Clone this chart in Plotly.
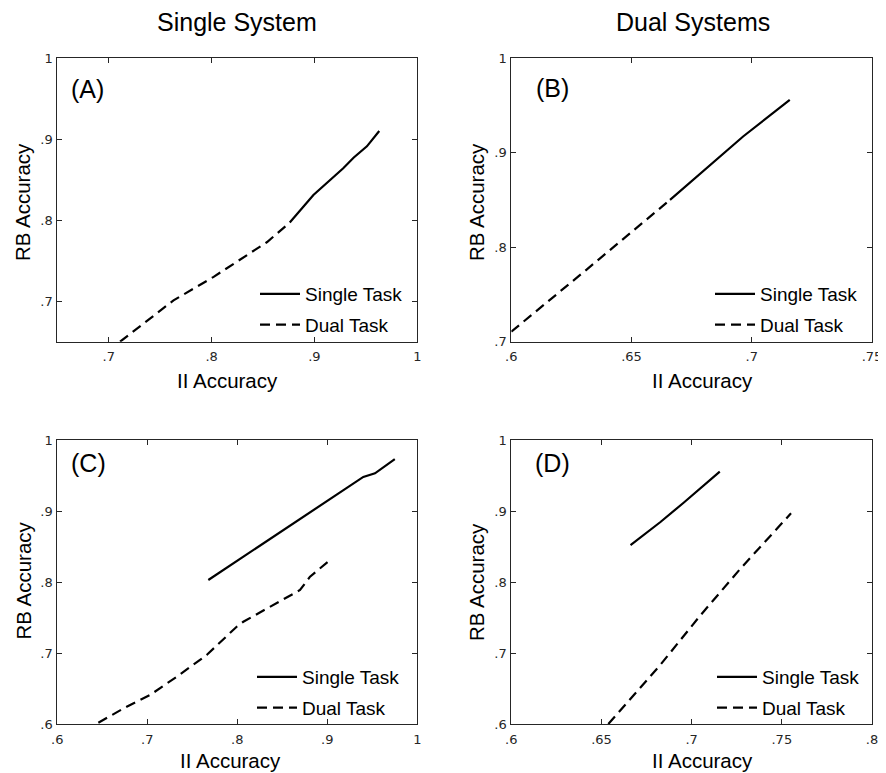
import plotly.graph_objects as go

# ---------------- data ----------------
# Panel A (Single System, top)
a_single_x = [0.876, 0.899, 0.928, 0.938, 0.951, 0.963]
a_single_y = [0.797, 0.831, 0.864, 0.877, 0.891, 0.910]
a_dual_x = [0.711, 0.763, 0.802, 0.841, 0.854, 0.876]
a_dual_y = [0.650, 0.701, 0.730, 0.763, 0.773, 0.797]

# Panel B (Dual Systems, top)
b_single_x = [0.666, 0.6825, 0.6964, 0.7158]
b_single_y = [0.850, 0.8860, 0.917, 0.9556]
b_dual_x = [0.600, 0.6312, 0.666]
b_dual_y = [0.7106, 0.776, 0.850]

# Panel C (Single System, bottom)
c_single_x = [0.7678, 0.8215, 0.9216, 0.940, 0.953, 0.966, 0.975]
c_single_y = [0.8028, 0.848, 0.932, 0.948, 0.953, 0.965, 0.973]
c_dual_x = [0.6456, 0.6771, 0.7030, 0.7327, 0.766, 0.7993, 0.8067, 0.8697, 0.8808, 0.903]
c_dual_y = [0.6018, 0.6244, 0.6408, 0.6666, 0.6972, 0.737, 0.744, 0.7887, 0.8075, 0.831]

# Panel D (Dual Systems, bottom)
d_single_x = [0.6661, 0.6827, 0.6957, 0.7156]
d_single_y = [0.8521, 0.8845, 0.9120, 0.9554]
d_dual_x = [0.6538, 0.6827, 0.7050, 0.7273, 0.7551]
d_dual_y = [0.600, 0.6835, 0.7535, 0.8195, 0.8968]

# tick labels
a_xticks = [0.7, 0.8, 0.9, 1.0]; a_xlabels = [".7", ".8", ".9", "1"]
a_yticks = [0.7, 0.8, 0.9, 1.0]; a_ylabels = [".7", ".8", ".9", "1"]
b_xticks = [0.6, 0.65, 0.7, 0.75]; b_xlabels = [".6", ".65", ".7", ".75"]
b_yticks = [0.7, 0.8, 0.9, 1.0]; b_ylabels = [".7", ".8", ".9", "1"]
c_xticks = [0.6, 0.7, 0.8, 0.9, 1.0]; c_xlabels = [".6", ".7", ".8", ".9", "1"]
c_yticks = [0.6, 0.7, 0.8, 0.9, 1.0]; c_ylabels = [".6", ".7", ".8", ".9", "1"]
d_xticks = [0.6, 0.65, 0.7, 0.75, 0.8]; d_xlabels = [".6", ".65", ".7", ".75", ".8"]
d_yticks = [0.6, 0.7, 0.8, 0.9, 1.0]; d_ylabels = [".6", ".7", ".8", ".9", "1"]

col_titles = ["Single System", "Dual Systems"]
panel_labels = ["(A)", "(B)", "(C)", "(D)"]
series_names = ["Single Task", "Dual Task"]

# ---------------- figure ----------------
W, H = 886, 773
OFF = 8  # page body margin offset
fig = go.Figure()

panels = [
    (a_single_x, a_single_y, a_dual_x, a_dual_y, "x", "y", "legend"),
    (b_single_x, b_single_y, b_dual_x, b_dual_y, "x2", "y2", "legend2"),
    (c_single_x, c_single_y, c_dual_x, c_dual_y, "x3", "y3", "legend3"),
    (d_single_x, d_single_y, d_dual_x, d_dual_y, "x4", "y4", "legend4"),
]
for sx, sy, dx, dy, xa, ya, lg in panels:
    fig.add_trace(go.Scatter(x=sx, y=sy, mode="lines", name=series_names[0],
                             line=dict(color="black", width=2.2),
                             legendgroup="s", xaxis=xa, yaxis=ya, legend=lg))
    fig.add_trace(go.Scatter(x=dx, y=dy, mode="lines", name=series_names[1],
                             line=dict(color="black", width=2.2, dash="10px,6px"),
                             legendgroup="d", xaxis=xa, yaxis=ya, legend=lg))

def px_x(p):
    return (p - OFF) / W

def px_y(p):
    return 1 - (p - OFF) / H

axcol = "#262626"
tickfont = dict(family="DejaVu Sans", size=13, color="#262626")

def axis(domain, rng, tv, tt, anchor, isx):
    d = dict(domain=domain, range=rng, tickvals=tv, ticktext=tt, anchor=anchor,
             showline=True, linecolor=axcol, linewidth=1, mirror="ticks",
             ticks="inside", ticklen=5, tickcolor=axcol, tickwidth=1,
             showgrid=False, zeroline=False, tickfont=tickfont, fixedrange=True,
             automargin=False)
    d["ticklabelstandoff"] = 3 if isx else 1
    return d

xdomL = [px_x(57.3), px_x(417.3)]
xdomR = [px_x(511.3), px_x(872)]
ydomT = [px_y(341.7), px_y(58)]
ydomB = [px_y(724), px_y(440)]

fig.update_layout(
    width=W, height=H,
    margin=dict(l=0, r=0, t=0, b=0, pad=0, autoexpand=False),
    paper_bgcolor="white", plot_bgcolor="white",
    showlegend=True,
    xaxis=axis(xdomL, [0.65, 1.0], a_xticks, a_xlabels, "y", True),
    yaxis=axis(ydomT, [0.65, 1.0], a_yticks, a_ylabels, "x", False),
    xaxis2=axis(xdomR, [0.6, 0.75], b_xticks, b_xlabels, "y2", True),
    yaxis2=axis(ydomT, [0.7, 1.0], b_yticks, b_ylabels, "x2", False),
    xaxis3=axis(xdomL, [0.6, 1.0], c_xticks, c_xlabels, "y3", True),
    yaxis3=axis(ydomB, [0.6, 1.0], c_yticks, c_ylabels, "x3", False),
    xaxis4=axis(xdomR, [0.6, 0.8], d_xticks, d_xlabels, "y4", True),
    yaxis4=axis(ydomB, [0.6, 1.0], d_yticks, d_ylabels, "x4", False),
)

legfont = dict(family="Liberation Sans, Arial", size=19, color="black")
def leg(xp, yp):
    return dict(x=px_x(xp), y=px_y(yp), xanchor="left", yanchor="top",
                bgcolor="rgba(0,0,0,0)", borderwidth=0, font=legfont,
                traceorder="grouped", itemwidth=40, tracegroupgap=3)

fig.update_layout(
    legend=leg(255, 275),
    legend2=leg(710, 275),
    legend3=leg(252, 658),
    legend4=leg(712, 658),
)

annots = []
tfont = dict(family="Liberation Sans, Arial", size=25, color="black")
annots.append(dict(text=col_titles[0], x=px_x(237), y=px_y(22), xref="paper", yref="paper",
                   showarrow=False, font=tfont, xanchor="center", yanchor="middle"))
annots.append(dict(text=col_titles[1], x=px_x(693), y=px_y(22), xref="paper", yref="paper",
                   showarrow=False, font=tfont, xanchor="center", yanchor="middle"))
pl_pos = [(87, 89), (552, 88), (88, 463), (552, 463)]
for lab, (xx, yy) in zip(panel_labels, pl_pos):
    annots.append(dict(text=lab, x=px_x(xx), y=px_y(yy), xref="paper", yref="paper",
                       showarrow=False, font=tfont, xanchor="center", yanchor="middle"))
afont = dict(family="Liberation Sans, Arial", size=20.5, color="black")
xt_pos = [(227.5, 380), (702, 380), (231, 760), (702, 760)]
for xx, yy in xt_pos:
    annots.append(dict(text="II Accuracy", x=px_x(xx), y=px_y(yy), xref="paper", yref="paper",
                       showarrow=False, font=afont, xanchor="center", yanchor="middle"))
yt_pos = [(22, 202), (476, 202), (22.5, 581), (476, 582)]
for xx, yy in yt_pos:
    annots.append(dict(text="RB Accuracy", x=px_x(xx), y=px_y(yy), xref="paper", yref="paper",
                       showarrow=False, font=afont, textangle=-90,
                       xanchor="center", yanchor="middle"))
fig.update_layout(annotations=annots)

fig.write_html("out.html")
